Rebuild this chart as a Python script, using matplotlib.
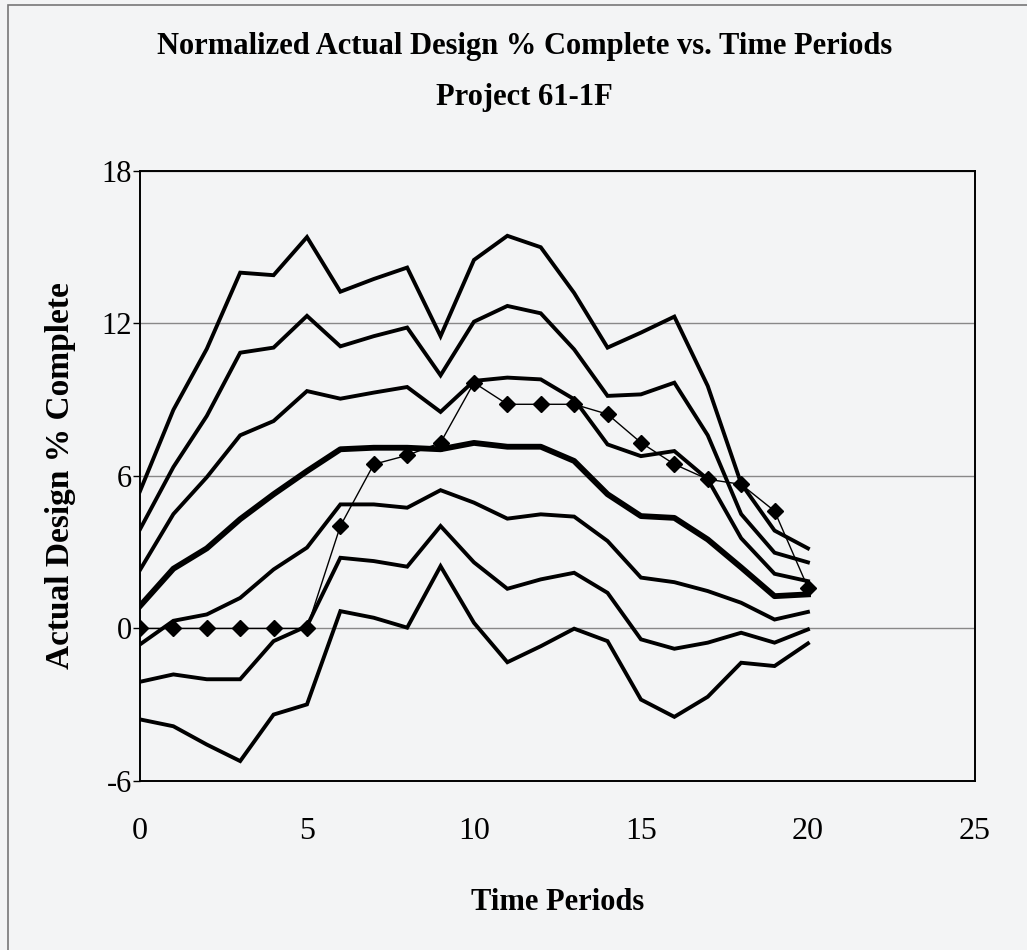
import numpy as np
import matplotlib.pyplot as plt
from matplotlib.patches import Rectangle

# time periods
periods = np.arange(0, 21)

# envelope lines, read from top to bottom
band_1 = [5.4, 8.6, 11.0, 14.0, 13.9, 15.4, 13.25, 13.75, 14.2, 11.5, 14.5,
          15.45, 15.0, 13.2, 11.05, 11.64, 12.27, 9.54, 5.7, 3.85, 3.15]
band_2 = [3.9, 6.35, 8.36, 10.85, 11.05, 12.3, 11.1, 11.5, 11.84, 9.96, 12.07,
          12.69, 12.4, 10.98, 9.15, 9.21, 9.67, 7.6, 4.5, 2.98, 2.6]
band_3 = [2.3, 4.5, 5.95, 7.6, 8.16, 9.34, 9.04, 9.28, 9.5, 8.52, 9.74,
          9.87, 9.8, 9.02, 7.24, 6.78, 6.98, 5.87, 3.55, 2.15, 1.86]
mean_line = [0.88, 2.35, 3.15, 4.3, 5.28, 6.19, 7.05, 7.11, 7.11, 7.05, 7.3,
             7.15, 7.15, 6.59, 5.28, 4.42, 4.35, 3.5, 2.4, 1.27, 1.34]
band_5 = [-0.63, 0.3, 0.55, 1.2, 2.32, 3.18, 4.88, 4.88, 4.75, 5.44, 4.95,
          4.32, 4.49, 4.4, 3.44, 2.0, 1.82, 1.47, 1.01, 0.35, 0.65]
band_6 = [-2.1, -1.81, -2.0, -2.0, -0.5, 0.09, 2.78, 2.65, 2.43, 4.03, 2.6,
          1.56, 1.93, 2.19, 1.4, -0.43, -0.8, -0.56, -0.17, -0.56, -0.04]
band_7 = [-3.58, -3.85, -4.57, -5.22, -3.39, -2.99, 0.68, 0.42, 0.03, 2.45, 0.22,
          -1.33, -0.7, -0.01, -0.5, -2.8, -3.48, -2.69, -1.35, -1.48, -0.59]
# project 61-1F actual
actual = [0, 0, 0, 0, 0, 0, 4.03, 6.46, 6.81, 7.31, 9.67,
          8.82, 8.82, 8.82, 8.43, 7.31, 6.46, 5.87, 5.67, 4.62, 1.6]

xticks = [0, 5, 10, 15, 20, 25]
yticks = [-6, 0, 6, 12, 18]

bg = '#f3f4f5'
plt.rcParams['font.family'] = ['Liberation Serif', 'DejaVu Serif']
plt.rcParams['axes.unicode_minus'] = False

fig = plt.figure(figsize=(10.27, 9.5), dpi=100, facecolor=bg)
ax = fig.add_axes([0.1363, 0.178, 0.813, 0.642], facecolor=bg)

# outer frame of the chart
fig.patches.append(Rectangle((0.008, -0.05), 1.5, 1.045, transform=fig.transFigure,
                             fill=False, edgecolor='#777777', lw=1.2))

for band in [band_1, band_2, band_3, band_5, band_6, band_7]:
    ax.plot(periods, band, color='black', lw=2.8, solid_joinstyle='miter')
ax.plot(periods, mean_line, color='black', lw=4.2)
ax.plot(periods, actual, color='black', lw=1.0, marker='D', markersize=8)

ax.set_xlim(0, 25)
ax.set_ylim(-6, 18)
ax.set_xticks(xticks)
ax.set_yticks(yticks)
ax.yaxis.grid(True, color='#888888', lw=1.0)
ax.set_axisbelow(True)
for s in ax.spines.values():
    s.set_linewidth(1.4)
    s.set_color('black')

ax.tick_params(axis='x', length=0, pad=26, labelsize=23)
ax.tick_params(axis='y', length=5, width=1, pad=1, labelsize=22, direction='out')

ax.set_xlabel('Time Periods', fontsize=22, fontweight='bold', labelpad=30)
ax.set_ylabel('Actual Design % Complete', fontsize=24, fontweight='bold', labelpad=18)

fig.text(0.511, 0.951, 'Normalized Actual Design % Complete vs. Time Periods',
         ha='center', va='center', fontsize=22, fontweight='bold')
fig.text(0.511, 0.897, 'Project 61-1F', ha='center', va='center',
         fontsize=22, fontweight='bold')

fig.savefig('out.png', dpi=100, facecolor=bg)
